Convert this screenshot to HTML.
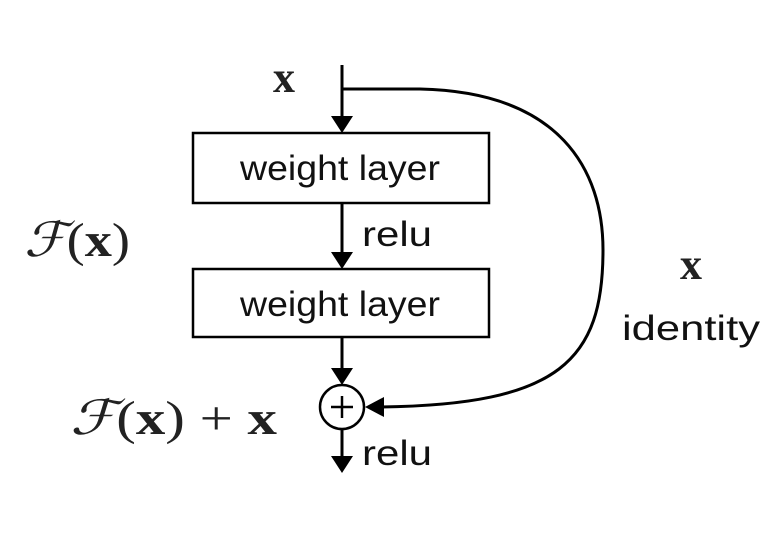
<!DOCTYPE html>
<html><head><style>
html,body{margin:0;padding:0;background:#fff;}
svg{display:block;}
.t{font-family:"Liberation Sans",sans-serif;font-size:35px;fill:#111;}
.m{font-family:"Liberation Serif",serif;fill:#222;}
</style></head><body>
<svg width="773" height="534" viewBox="0 0 773 534" xmlns="http://www.w3.org/2000/svg">
<g stroke="#000" stroke-width="3" fill="none">
<line x1="342" y1="65" x2="342" y2="118"/>
<line x1="342" y1="203" x2="342" y2="254"/>
<line x1="342" y1="337" x2="342" y2="370"/>
<line x1="342" y1="429" x2="342" y2="458"/>
<rect x="193" y="133" width="296" height="70" stroke-width="2.5"/>
<rect x="193" y="269" width="296" height="68" stroke-width="2.5"/>
<circle cx="342" cy="407" r="22" stroke-width="2.5"/>
<line x1="331" y1="407" x2="353" y2="407" stroke-width="2.5"/>
<line x1="342" y1="396" x2="342" y2="418" stroke-width="2.5"/>
<path d="M342 89 L420 89 C560 92 603 170 603 250 C603 360 560 405 380 407"/>
</g>
<g fill="#000">
<polygon points="331,116 353,116 342,133"/>
<polygon points="331,252 353,252 342,269"/>
<polygon points="331,368 353,368 342,385"/>
<polygon points="331,456 353,456 342,473"/>
<polygon points="365,407 384,397 384,417"/>
</g>
<text class="t" x="240" y="180" textLength="200" lengthAdjust="spacingAndGlyphs">weight layer</text>
<text class="t" x="240" y="316" textLength="200" lengthAdjust="spacingAndGlyphs">weight layer</text>
<text class="t" x="362" y="246" textLength="70" lengthAdjust="spacingAndGlyphs">relu</text>
<text class="t" x="362" y="465" textLength="70" lengthAdjust="spacingAndGlyphs">relu</text>
<text class="t" x="622" y="340" textLength="138" lengthAdjust="spacingAndGlyphs">identity</text>
<text class="m" x="273" y="92" font-size="44" font-weight="bold">x</text>
<text class="m" x="680" y="279" font-size="44" font-weight="bold">x</text>
<text class="m" x="24" y="256" font-size="48" font-style="italic" textLength="106" lengthAdjust="spacingAndGlyphs">ℱ<tspan font-style="normal">(</tspan><tspan font-weight="bold" font-style="normal">x</tspan><tspan font-style="normal">)</tspan></text>
<text class="m" x="70" y="434" font-size="48" font-style="italic" textLength="207" lengthAdjust="spacingAndGlyphs">ℱ<tspan font-style="normal">(</tspan><tspan font-weight="bold" font-style="normal">x</tspan><tspan font-style="normal">) + </tspan><tspan font-weight="bold" font-style="normal">x</tspan></text>
</svg>
</body></html>
